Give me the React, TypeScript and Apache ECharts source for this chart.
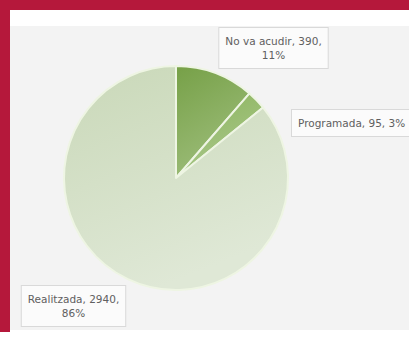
import React, { useEffect, useRef } from "react";
import * as echarts from "echarts";

const categories = ["No va acudir", "Programada", "Realitzada"];
const values = [390, 95, 2940];

const sliceColors: [string, string][] = [
  ["#76a047", "#9dbd7a"],
  ["#8bb45c", "#a9c78a"],
  ["#c9d8b8", "#dfe8d6"],
];

const labelPos = [
  { x: 273.5, y: 48, align: "center" },
  { x: 292, y: 123, align: "left" },
  { x: 73.5, y: 306, align: "center" },
];

export default function App() {
  const ref = useRef<HTMLDivElement>(null);
  useEffect(() => {
    document.body.style.margin = "0";
    const chart = echarts.init(ref.current!, undefined, { renderer: "svg" });
    const data = categories.map((name, i) => ({
      name,
      value: values[i],
      itemStyle: {
        color: new echarts.graphic.LinearGradient(0, 0, 0.4, 1, [
          { offset: 0, color: sliceColors[i][0] },
          { offset: 1, color: sliceColors[i][1] },
        ]),
      },
      label: i === 1 ? { formatter: "{b}, {c}, {d}%" } : undefined,
    }));
    chart.setOption({
      animation: false,
      backgroundColor: "#ffffff",
      graphic: [
        { type: "rect", shape: { x: 0, y: 0, width: 409, height: 10 }, style: { fill: "#b5183b" }, silent: true, z: -10 },
        { type: "rect", shape: { x: 0, y: 0, width: 10, height: 332 }, style: { fill: "#b5183b" }, silent: true, z: -10 },
        { type: "rect", shape: { x: 10, y: 26, width: 399, height: 304 }, style: { fill: "#f3f3f3" }, silent: true, z: -10 },
      ],
      series: [
        {
          type: "pie",
          center: [176, 178],
          radius: 112,
          startAngle: 90,
          clockwise: true,
          percentPrecision: 0,
          avoidLabelOverlap: false,
          itemStyle: { borderColor: "#eef5e3", borderWidth: 2 },
          labelLine: { show: false },
          label: {
            show: true,
            position: "outside",
            formatter: "{b}, {c},\n{d}%",
            color: "#606060",
            fontFamily: "DejaVu Sans",
            fontSize: 10.5,
            lineHeight: 14,
            align: "center",
            backgroundColor: "#fbfbfb",
            borderColor: "#d9d9d9",
            borderWidth: 1,
            padding: [6, 6],
          },
          labelLayout: (params: any) => {
            const p = labelPos[params.dataIndex];
            return { x: p.x, y: p.y, align: p.align, verticalAlign: "middle", hideOverlap: false };
          },
          emphasis: { disabled: true },
          data,
        },
      ],
    });
    return () => chart.dispose();
  }, []);
  return <div ref={ref} style={{ width: 409, height: 340 }} />;
}
